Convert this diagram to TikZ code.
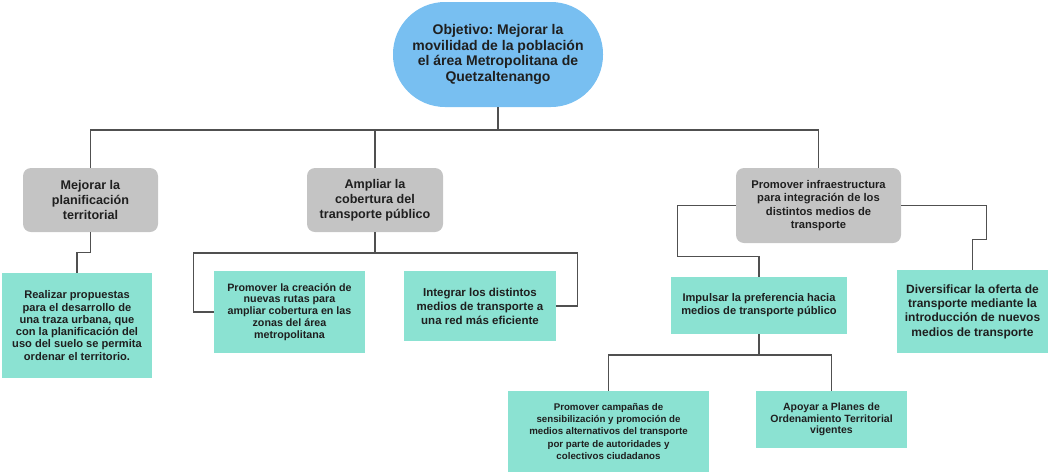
\documentclass[tikz,border=0pt]{standalone}
\usepackage{fontspec}
\setmainfont{Liberation Sans}
\usetikzlibrary{calc}
\frenchspacing

\definecolor{goalblue}{HTML}{78BFF1}
\definecolor{areagray}{HTML}{C4C4C4}
\definecolor{actteal}{HTML}{8BE2D2}
\definecolor{linkgray}{HTML}{505050}
\definecolor{txtdark}{HTML}{1F1F1F}

\tikzset{
  goal/.style={fill=goalblue, rounded corners=52pt, minimum width=210pt, minimum height=105pt,
    inner sep=0pt, align=center, text=txtdark, font=\bfseries\fontsize{14}{15.5}\selectfont},
  area/.style={fill=areagray, rounded corners=8pt, inner sep=0pt, align=center, text=txtdark},
  action/.style={fill=actteal, inner sep=0pt, align=center, text=txtdark},
  link/.style={draw=linkgray, line width=1.1pt}
}

\begin{document}
\begin{tikzpicture}[x=1pt, y=-1pt]
  \useasboundingbox (0,0) rectangle (1049,472);

  % objective
  \node[goal] (obj) at (498,54.5) {Objetivo: Mejorar la\\movilidad de la población\\el área Metropolitana de\\Quetzaltenango};

  % strategic areas
  \node[area, minimum width=135pt, minimum height=64pt, font=\bfseries\fontsize{12.6}{15}\selectfont]
    (plan) at (90.5,200) {Mejorar la\\planificación\\territorial};
  \node[area, minimum width=136pt, minimum height=64pt, font=\bfseries\fontsize{12.6}{15}\selectfont]
    (ampl) at (375,200) {Ampliar la\\cobertura del\\transporte público};
  \node[area, minimum width=165pt, minimum height=75pt, font=\bfseries\fontsize{11.2}{13.3}\selectfont]
    (infra) at (818.5,205.5) {Promover infraestructura\\para integración de los\\distintos medios de\\transporte};

  % actions
  \node[action, minimum width=150pt, minimum height=105pt, font=\bfseries\fontsize{11.1}{12.3}\selectfont]
    (real) at (77,325.5) {Realizar propuestas\\para el desarrollo de\\una traza urbana, que\\con la planificación del\\uso del suelo se permita\\ordenar el territorio.};
  \node[action, minimum width=151pt, minimum height=82pt, font=\bfseries\fontsize{10.7}{11.9}\selectfont]
    (crea) at (289.5,312) {Promover la creación de\\nuevas rutas para\\ampliar cobertura en las\\zonas del área\\metropolitana};
  \node[action, minimum width=152pt, minimum height=70pt, font=\bfseries\fontsize{11.5}{14}\selectfont]
    (integ) at (480,306) {Integrar los distintos\\medios de transporte a\\una red más eficiente};
  \node[action, minimum width=176pt, minimum height=57pt, font=\bfseries\fontsize{11.1}{12.8}\selectfont]
    (impu) at (759,305.5) {Impulsar la preferencia hacia\\medios de transporte público};
  \node[action, minimum width=151pt, minimum height=83pt, font=\bfseries\fontsize{12}{14.3}\selectfont]
    (diver) at (972.5,311.5) {Diversificar la oferta de\\transporte mediante la\\introducción de nuevos\\medios de transporte};
  \node[action, minimum width=201pt, minimum height=81pt, font=\bfseries\fontsize{9.7}{12.2}\selectfont]
    (camp) at (608.5,431.5) {Promover campañas de\\sensibilización y promoción de\\medios alternativos del transporte\\por parte de autoridades y\\colectivos ciudadanos};
  \node[action, minimum width=151pt, minimum height=57pt, font=\bfseries\fontsize{10.5}{11.6}\selectfont]
    (apoy) at (831.5,419.5) {Apoyar a Planes de\\Ordenamiento Territorial\\vigentes};

  % objective to areas
  \coordinate (bus1) at (498,130);
  \draw[link] (obj.south) -- (bus1);
  \draw[link] (plan.north) |- (infra.north |- bus1) -- (infra.north);
  \draw[link] (ampl.north) -- (ampl.north |- bus1);

  % planning
  \draw[link] (plan.south) -- ++(0,20) -| (real.north);

  % coverage
  \coordinate (bus2) at (375,253);
  \draw[link] (ampl.south) -- (bus2);
  \draw[link] (crea.west) -- ++(-20,0) |- (bus2);
  \draw[link] (integ.east) -- ++(21,0) |- (bus2);

  % infrastructure
  \draw[link] (infra.west) -| ++(-58,51) -| (impu.north);
  \draw[link] (infra.east) -| ++(85,34) -| (diver.north);

  % public transport
  \coordinate (bus3) at (759,355);
  \draw[link] (impu.south) -- (bus3);
  \draw[link] (camp.north) |- (bus3);
  \draw[link] (apoy.north) |- (bus3);
\end{tikzpicture}
\end{document}
